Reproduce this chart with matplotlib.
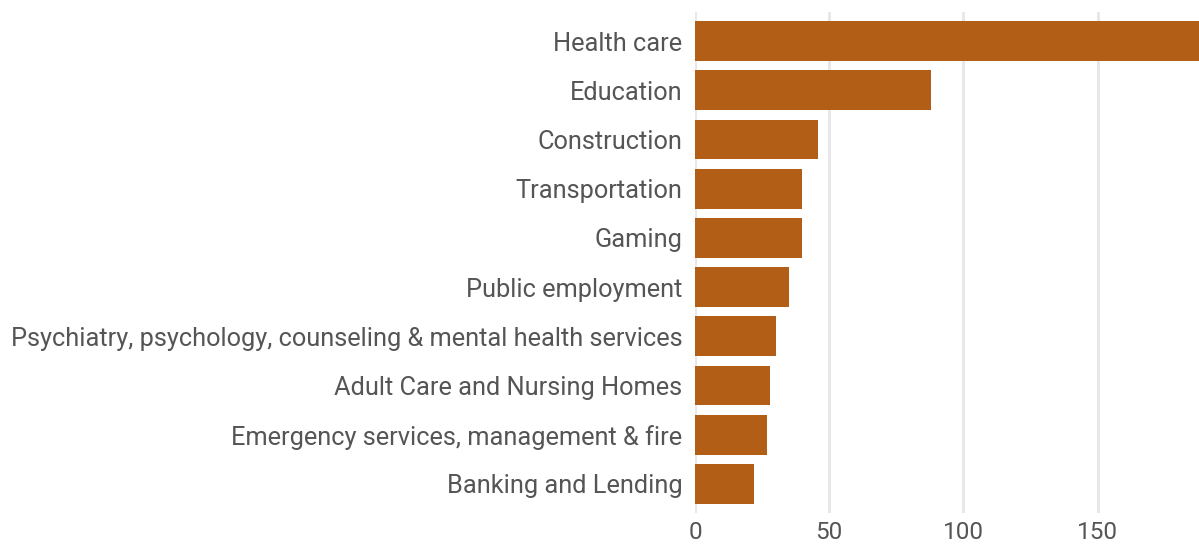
import matplotlib
matplotlib.use("Agg")
import matplotlib.pyplot as plt

categories = [
    "Health care",
    "Education",
    "Construction",
    "Transportation",
    "Gaming",
    "Public employment",
    "Psychiatry, psychology, counseling & mental health services",
    "Adult Care and Nursing Homes",
    "Emergency services, management & fire",
    "Banking and Lending",
]
values = [196, 88, 46, 40, 40, 35, 30, 28, 27, 22]
xticks = [0, 50, 100, 150]

plt.rcParams["font.family"] = ["Roboto", "DejaVu Sans"]
text_color = "#555555"

fig = plt.figure(figsize=(11.99, 5.46), dpi=100)
ax = fig.add_axes([695 / 1199, 1 - 513 / 546, 504 / 1199, 501 / 546])

pos = list(range(len(categories)))
ax.barh(pos, values, height=0.81, color="#b35e16", zorder=3)
ax.set_ylim(len(categories) - 0.41, -0.59)
ax.set_xlim(0, 187.8)

ax.set_yticks(pos)
ax.set_yticklabels(categories, fontsize=18.3, color=text_color)
ax.set_xticks(xticks)
ax.set_xticklabels([str(v) for v in xticks], fontsize=17.5, color=text_color)
ax.tick_params(length=0)
ax.tick_params(axis="y", pad=9)
ax.tick_params(axis="x", pad=6)

ax.grid(axis="x", color="#e8e8e8", linewidth=2.2, zorder=0)
for s in ax.spines.values():
    s.set_visible(False)

fig.savefig("out.png", dpi=100)
